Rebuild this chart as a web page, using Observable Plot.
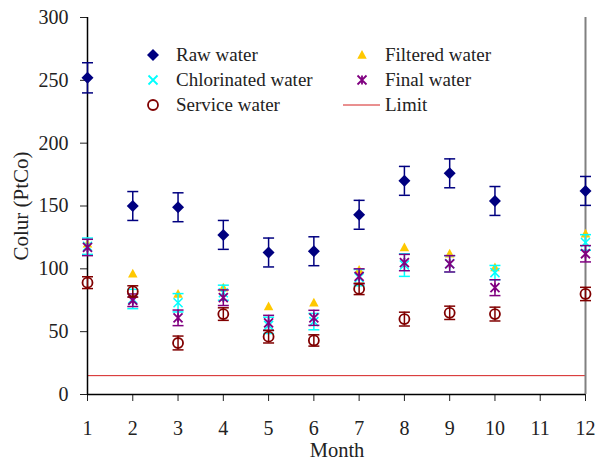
<!DOCTYPE html>
<html>
<head>
<meta charset="utf-8">
<script src="https://cdn.jsdelivr.net/npm/d3@7"></script>
<script src="https://cdn.jsdelivr.net/npm/@observablehq/plot@0.6"></script>
<style>
  html, body { margin: 0; padding: 0; background: #fff; }
  #chart { position: relative; width: 595px; height: 460px; }
  #chart svg text.legend-label { font-family: "Liberation Serif", serif; font-size: 19px; fill: #222; }
  #chart svg text.axis-title { font-family: "Liberation Serif", serif; font-size: 21px; fill: #222; }
</style>
</head>
<body>
<div id="chart"></div>
<script>
// ---- data ----
const months = [1, 2, 3, 4, 5, 6, 7, 8, 9, 10, 12];
const rawWater = [252, 150, 149, 127, 113, 114, 143, 170, 176, 154, 162];
const rawErr = [12, 11.5, 11.5, 11.5, 11.5, 11.5, 11.5, 11.5, 11.5, 11.5, 11.5];
const filteredWater = [120, 96, 80, 85, 70, 73, 99, 117, 112, 101, 128];
const chlorinatedWater = [118, 76, 73, 81, 55, 58, 93, 103, 104, 97, 121];
const chlorinatedErr = [6.5, 7.7, 7.3, 6, 6.5, 6.5, 6.5, 9, 6.5, 5.7, 6.2];
const finalWater = [117, 75, 61, 77, 57, 61, 94, 105, 104, 85, 112];
const finalErr = [6.5, 5, 6.2, 6.2, 6, 6, 6, 6.5, 6.5, 6.3, 6.5];
const serviceWater = [89, 82, 41, 64, 46, 43, 84, 60, 65, 64, 80];
const serviceErr = [4.7, 4.5, 5.5, 5, 5, 4.5, 4.5, 5.5, 5.3, 5.5, 5.3];
const limitValue = 15;
const xTicks = [1, 2, 3, 4, 5, 6, 7, 8, 9, 10, 11, 12];
const yTicks = [0, 50, 100, 150, 200, 250, 300];
const xTitle = "Month";
const yTitle = "Colur (PtCo)";
const seriesNames = ["Raw water", "Filtered water", "Chlorinated water", "Final water", "Service water", "Limit"];
const colors = {raw: "#000080", filtered: "#FFC800", chlorinated: "#00FFFF", final: "#800080", service: "#800000", limit: "#d42020"};

// ---- custom symbols ----
const rOf = s => Math.sqrt(s / Math.PI);
const hbar = {draw(c, s) { const r = rOf(s); c.moveTo(-r, 0); c.lineTo(r, 0); }};
const diamond = {draw(c, s) { const r = rOf(s); c.moveTo(0, -r); c.lineTo(r, 0); c.lineTo(0, r); c.lineTo(-r, 0); c.closePath(); }};
const tri = {draw(c, s) { const r = rOf(s); c.moveTo(0, -r); c.lineTo(r * 0.95, r * 0.75); c.lineTo(-r * 0.95, r * 0.75); c.closePath(); }};
const cross = {draw(c, s) { const r = rOf(s); c.moveTo(-r, -r); c.lineTo(r, r); c.moveTo(r, -r); c.lineTo(-r, r); }};
const star = {draw(c, s) { const r = rOf(s); c.moveTo(-r, -r); c.lineTo(r, r); c.moveTo(r, -r); c.lineTo(-r, r); c.moveTo(0, -r); c.lineTo(0, r); }};

const mk = (vals, errs) => months.map((m, i) => ({month: m, v: vals[i], lo: errs ? vals[i] - errs[i] : null, hi: errs ? vals[i] + errs[i] : null}));
const raw = mk(rawWater, rawErr);
const filt = mk(filteredWater, null);
const chl = mk(chlorinatedWater, chlorinatedErr);
const fin = mk(finalWater, finalErr);
const serv = mk(serviceWater, serviceErr);

function errMarks(data, color) {
  return [
    Plot.ruleX(data, {x: "month", y1: "lo", y2: "hi", stroke: color, strokeWidth: 1.5}),
    Plot.dot(data, {x: "month", y: "lo", symbol: hbar, r: 5.5, stroke: color, strokeWidth: 1.5}),
    Plot.dot(data, {x: "month", y: "hi", symbol: hbar, r: 5.5, stroke: color, strokeWidth: 1.5})
  ];
}

const chart = Plot.plot({
  width: 595,
  height: 460,
  marginLeft: 87,
  marginRight: 10,
  marginTop: 17,
  marginBottom: 66,
  style: {fontFamily: "'Liberation Serif', serif", fontSize: "20px", color: "#222", background: "#fff", overflow: "visible"},
  x: {domain: [1, 12]},
  y: {domain: [0, 300]},
  marks: [
    Plot.axisY(yTicks, {tickSize: 7, tickPadding: 12, label: null}),
    Plot.axisX(xTicks, {tickSize: 7, tickPadding: 19, tickFormat: d => String(d), label: null}),
    Plot.ruleY([limitValue], {stroke: colors.limit, strokeWidth: 1}),
    Plot.ruleX([12], {stroke: "#808080", strokeWidth: 2}),
    Plot.ruleX([1], {stroke: "#000", strokeWidth: 1.5}),
    Plot.ruleY([0], {stroke: "#000", strokeWidth: 1.5}),
    ...errMarks(raw, colors.raw),
    Plot.dot(raw, {x: "month", y: "v", symbol: diamond, r: 6, fill: colors.raw}),
    Plot.dot(filt, {x: "month", y: "v", symbol: tri, r: 5, fill: colors.filtered}),
    ...errMarks(chl, colors.chlorinated),
    Plot.dot(chl, {x: "month", y: "v", symbol: cross, r: 4.5, stroke: colors.chlorinated, strokeWidth: 1.5}),
    ...errMarks(fin, colors.final),
    Plot.dot(fin, {x: "month", y: "v", symbol: star, r: 4.5, stroke: colors.final, strokeWidth: 1.8}),
    ...errMarks(serv, colors.service),
    Plot.dot(serv, {x: "month", y: "v", r: 5, stroke: colors.service, strokeWidth: 1.8, fill: "none"})
  ]
});
document.getElementById("chart").appendChild(chart);

const svg = d3.select(chart);

// ---- axis titles ----
svg.append("text").attr("class", "axis-title")
  .style("font-family", "'Liberation Serif', serif").style("font-size", "21px")
  .attr("text-anchor", "middle").attr("transform", "translate(21,206) rotate(-90)")
  .attr("dy", "0.35em").text(yTitle);
svg.append("text").attr("class", "axis-title")
  .style("font-family", "'Liberation Serif', serif").style("font-size", "20.5px")
  .attr("text-anchor", "middle").attr("x", 337).attr("y", 450)
  .attr("dy", "0.35em").text(xTitle);

// ---- legend (inside the plot area) ----
const leg = svg.append("g").attr("text-anchor", "start");
const items = [
  {name: seriesNames[0], col: 0, row: 0, sym: diamond, r: 6, fill: colors.raw, stroke: "none"},
  {name: seriesNames[1], col: 1, row: 0, sym: tri, r: 5, fill: colors.filtered, stroke: "none"},
  {name: seriesNames[2], col: 0, row: 1, sym: cross, r: 4.5, fill: "none", stroke: colors.chlorinated},
  {name: seriesNames[3], col: 1, row: 1, sym: star, r: 4.5, fill: "none", stroke: colors.final},
  {name: seriesNames[4], col: 0, row: 2, sym: d3.symbolCircle, r: 5, fill: "none", stroke: colors.service},
  {name: seriesNames[5], col: 1, row: 2, line: true, stroke: colors.limit}
];
const colX = [153, 362], textX = [176, 385], rowY = [55, 80, 105];
for (const it of items) {
  const cx = colX[it.col], cy = rowY[it.row];
  if (it.line) {
    leg.append("line").attr("x1", 343).attr("x2", 380).attr("y1", cy).attr("y2", cy).attr("stroke", it.stroke).attr("stroke-width", 1);
  } else {
    leg.append("path").attr("transform", `translate(${cx},${cy})`)
      .attr("d", d3.symbol(it.sym, it.r * it.r * Math.PI)())
      .attr("fill", it.fill).attr("stroke", it.stroke).attr("stroke-width", 1.8);
  }
  leg.append("text").attr("class", "legend-label")
    .style("font-family", "'Liberation Serif', serif").style("font-size", "19px")
    .attr("x", textX[it.col]).attr("y", cy).attr("dy", "0.32em").text(it.name);
}
</script>
</body>
</html>
